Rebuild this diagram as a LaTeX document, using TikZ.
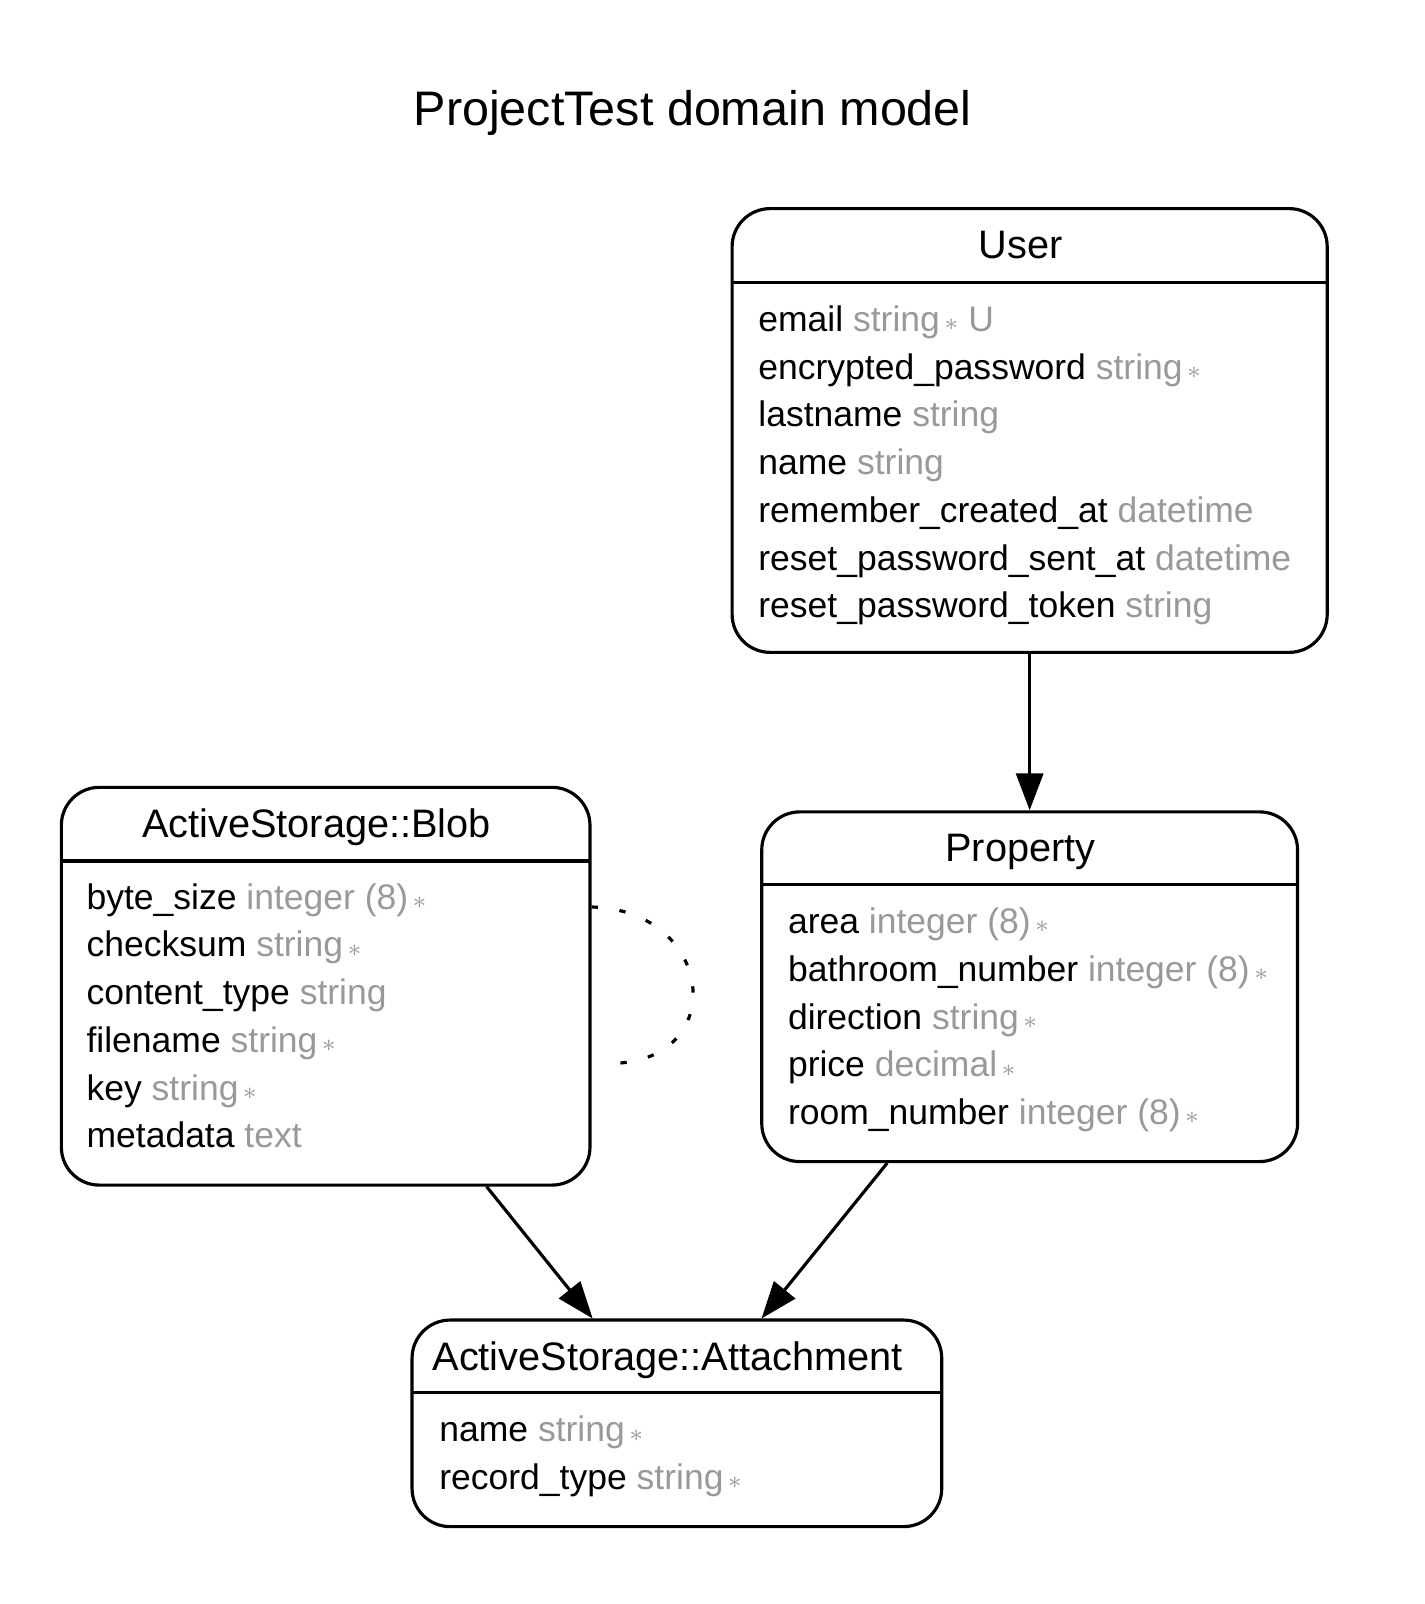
\documentclass[tikz,border=0pt]{standalone}
\usepackage{fontspec}
\setmainfont{Liberation Sans}
\usetikzlibrary{arrows.meta,fit}
\definecolor{typegray}{HTML}{999999}
\newcommand\req{\kern1.2pt\raisebox{0.2pt}{\fontsize{6.8}{7}\selectfont$\ast$}}

\begin{document}
\begin{tikzpicture}[x=0.010225cm, y=-0.010225cm,
  entity/.style={draw, line width=0.9pt, rounded corners=3.8mm, inner sep=0pt},
  head/.style={anchor=base, inner sep=0pt, font=\fontsize{11.3}{13}\selectfont},
  attr/.style={anchor=base west, inner sep=0pt, font=\fontsize{10.1}{12}\selectfont},
  rel/.style={line width=0.9pt, -{Triangle[length=10.5pt,width=7.7pt]}},
  selfrel/.style={line width=0.9pt, dash pattern=on 1.8pt off 6.2pt}]

\useasboundingbox (0,0) rectangle (1392.7,1568.7);

\node[anchor=base, font=\fontsize{13.8}{16}\selectfont] (title) at (677.5,123) {ProjectTest domain model};

% User
\node[entity, fit={(716,204) (1298,638)}] (user) {};
\draw[line width=0.9pt] (716,276) -- (1298,276);
\node[head] (user-head) at (998,253) {User};
\foreach \fld/\typ [count=\i] in {email/{string\req\ U}, encrypted\_password/{string\req},
    lastname/string, name/string, remember\_created\_at/datetime,
    reset\_password\_sent\_at/datetime, reset\_password\_token/string}
  \node[attr] (user-\i) at (741,{277.3+46.7*\i}) {\fld\ \textcolor{typegray}{\typ}};

% Property
\node[entity, fit={(745,794) (1269,1136)}] (property) {};
\draw[line width=0.9pt] (745,865) -- (1269,865);
\node[head] (property-head) at (998,843) {Property};
\foreach \fld/\typ [count=\i] in {area/{integer (8)\req}, bathroom\_number/{integer (8)\req},
    direction/{string\req}, price/{decimal\req}, room\_number/{integer (8)\req}}
  \node[attr] (property-\i) at (770,{866.3+46.7*\i}) {\fld\ \textcolor{typegray}{\typ}};

% ActiveStorage::Blob
\node[entity, fit={(60,770) (577,1159)}] (blob) {};
\draw[line width=0.9pt] (60,842) -- (577,842);
\node[head] (blob-head) at (309.5,819) {ActiveStorage::Blob};
\foreach \fld/\typ [count=\i] in {byte\_size/{integer (8)\req}, checksum/{string\req},
    content\_type/string, filename/{string\req}, key/{string\req}, metadata/text}
  \node[attr] (blob-\i) at (84,{842.3+46.7*\i}) {\fld\ \textcolor{typegray}{\typ}};

% ActiveStorage::Attachment
\node[entity, fit={(403,1291) (921,1493)}] (attachment) {};
\draw[line width=0.9pt] (403,1362) -- (921,1362);
\node[head] (attachment-head) at (653,1340) {ActiveStorage::Attachment};
\foreach \fld/\typ [count=\i] in {name/{string\req}, record\_type/{string\req}}
  \node[attr] (attachment-\i) at (429,{1363.3+46.7*\i}) {\fld\ \textcolor{typegray}{\typ}};

% relations
\draw[rel] (user) -- (property);
\draw[rel] (blob) -- (attachment);
\draw[rel] (property) -- (attachment);

\coordinate (loop-end) at (596,1040);
\draw[selfrel] (blob.east |- 0,887) .. controls (700,890) and (715,1040) .. (loop-end);

\end{tikzpicture}
\end{document}
